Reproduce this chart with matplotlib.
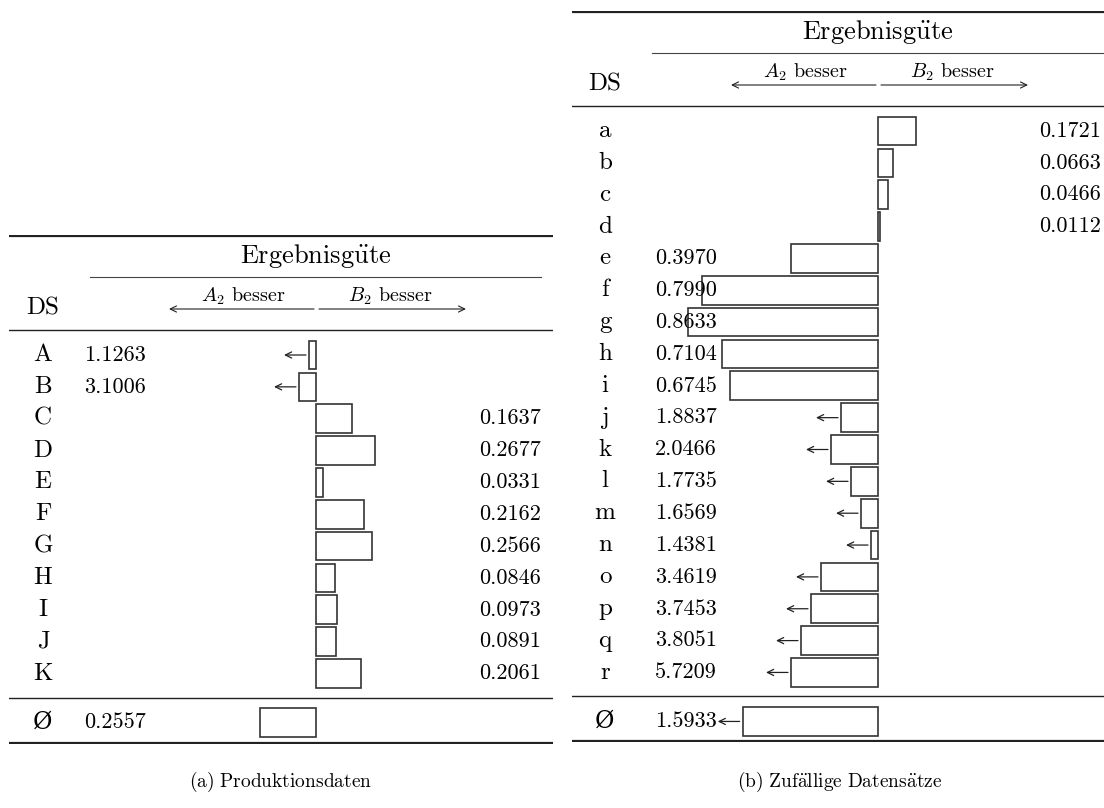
import matplotlib
matplotlib.use("Agg")
import matplotlib.pyplot as plt
import numpy as np

plt.rcParams['font.family'] = ['cmr10', 'DejaVu Serif']
plt.rcParams['mathtext.fontset'] = 'cm'
plt.rcParams['axes.unicode_minus'] = False

# data
prod_ds = ['A', 'B', 'C', 'D', 'E', 'F', 'G', 'H', 'I', 'J', 'K']
prod_vals = [1.1263, 3.1006, 0.1637, 0.2677, 0.0331, 0.2162, 0.2566, 0.0846, 0.0973, 0.0891, 0.2061]
prod_better = ['A', 'A', 'B', 'B', 'B', 'B', 'B', 'B', 'B', 'B', 'B']
prod_avg = 0.2557
prod_avg_better = 'A'

rand_ds = list('abcdefghijklmnopqr')
rand_vals = [0.1721, 0.0663, 0.0466, 0.0112, 0.3970, 0.7990, 0.8633, 0.7104, 0.6745,
             1.8837, 2.0466, 1.7735, 1.6569, 1.4381, 3.4619, 3.7453, 3.8051, 5.7209]
rand_better = ['B'] * 4 + ['A'] * 14
rand_avg = 1.5933
rand_avg_better = 'A'

# captions (Produktionsdaten / Zufällige Datensätze), umlauts via cm accents
captions = [r'$\mathrm{(a)\ Produktionsdaten}$',
            r'$\mathrm{(b)\ Zuf\ddot{a}llige\ Datens\ddot{a}tze}$']

W, H = 1104, 808
ROW = 31.85      # px per table row
SCALE = 220.0    # px per unit of value
CLIP = 1.0       # values above this are drawn shortened with an arrow
STEP = 10 / SCALE
EDGE = '#333333'
NUM_FS = 16


def arrow(ax, x_tip, x_tail, y, lw=0.9):
    ax.annotate('', xy=(x_tip, y), xytext=(x_tail, y),
                arrowprops=dict(arrowstyle='->,head_length=0.45,head_width=0.22',
                                lw=lw, color='#222222', shrinkA=0, shrinkB=0))


def panel(fig, ds, vals, better, avg, avg_better, x0, x1, zero, row0,
          lab_x, num_left, num_right, cmid_x0, cmid_x1, avg_clip, caption, cap_x):
    n = len(ds)
    top = row0 - 120
    bot = row0 + (n - 1) * ROW + 70
    ax = fig.add_axes([x0 / W, 1 - bot / H, (x1 - x0) / W, (bot - top) / H])
    ax.set_xlim((x0 - zero) / SCALE, (x1 - zero) / SCALE)
    ax.set_ylim((bot - row0) / ROW, (top - row0) / ROW)
    ax.axis('off')
    px = lambda p: (p - zero) / SCALE

    # rules
    ax.axhline((top - row0) / ROW + 0.03, color='#222', lw=1.6)
    ax.axhline(-25 / ROW, color='#222', lw=1.0)
    ax.axhline((n - 1) + 24 / ROW, color='#222', lw=1.0)
    ax.axhline((bot - row0) / ROW - 0.03, color='#222', lw=1.6)
    ax.axhline(-78 / ROW, xmin=(cmid_x0 - x0) / (x1 - x0), xmax=(cmid_x1 - x0) / (x1 - x0),
               color='#444', lw=0.8)

    # header
    ax.text(px((cmid_x0 + cmid_x1) / 2), -99 / ROW, r'$\mathrm{Ergebnisg\ddot{u}te}$',
            ha='center', va='center', fontsize=19)
    ax.text(px(lab_x), -47 / ROW, 'DS', ha='center', va='center', fontsize=18)
    ax.text(px(zero - 73), -59 / ROW, r'$A_2$ besser', ha='center', va='center', fontsize=14.5)
    ax.text(px(zero + 74), -59 / ROW, r'$B_2$ besser', ha='center', va='center', fontsize=14.5)
    arrow(ax, px(zero - 147), px(zero - 2), -46 / ROW, lw=0.8)
    arrow(ax, px(zero + 150), px(zero + 3), -46 / ROW, lw=0.8)

    vals = np.array(vals, dtype=float)
    clipped = vals > CLIP
    rank = np.argsort(np.argsort(np.where(clipped, vals, np.inf)))
    lengths = np.where(clipped, (0.7 + rank) * STEP, vals)
    sign = np.array([-1 if b == 'A' else 1 for b in better])
    ys = np.arange(n)
    ax.barh(ys, sign * lengths, height=0.9, color='white', edgecolor=EDGE, lw=1.2)

    for i in range(n):
        ax.text(px(lab_x), i, ds[i], ha='center', va='center', fontsize=18)
        if better[i] == 'A':
            ax.text(px(num_left), i, f'{vals[i]:.4f}', ha='left', va='center', fontsize=NUM_FS)
        else:
            ax.text(px(num_right), i, f'{vals[i]:.4f}', ha='right', va='center', fontsize=NUM_FS)
        if clipped[i]:
            x_end = sign[i] * lengths[i]
            arrow(ax, x_end - 25 / SCALE, x_end - 3 / SCALE, i)

    # average row
    ya = (n - 1) + 49 / ROW
    alen = min(avg, avg_clip)
    asign = -1 if avg_better == 'A' else 1
    ax.barh([ya], [asign * alen], height=0.9, color='white', edgecolor=EDGE, lw=1.2)
    if avg > avg_clip:
        arrow(ax, asign * alen - 25 / SCALE, asign * alen - 3 / SCALE, ya)
    ax.text(px(lab_x), ya, 'Ø', ha='center', va='center', fontsize=17,
            family=['DejaVu Serif'], fontweight='light')
    if avg_better == 'A':
        ax.text(px(num_left), ya, f'{avg:.4f}', ha='left', va='center', fontsize=NUM_FS)
    else:
        ax.text(px(num_right), ya, f'{avg:.4f}', ha='right', va='center', fontsize=NUM_FS)

    fig.text(cap_x / W, 1 - 782 / H, caption, ha='center', va='center', fontsize=14)


fig = plt.figure(figsize=(W / 100, H / 100), dpi=100)
panel(fig, prod_ds, prod_vals, prod_better, prod_avg, prod_avg_better,
      x0=9, x1=553, zero=316, row0=355, lab_x=43, num_left=84, num_right=541,
      cmid_x0=90, cmid_x1=541, avg_clip=1.0, caption=captions[0], cap_x=281)
panel(fig, rand_ds, rand_vals, rand_better, rand_avg, rand_avg_better,
      x0=572, x1=1104, zero=878, row0=131, lab_x=605, num_left=655, num_right=1101,
      cmid_x0=652, cmid_x1=1104, avg_clip=0.615, caption=captions[1], cap_x=840)

fig.savefig('out.png', dpi=100)
